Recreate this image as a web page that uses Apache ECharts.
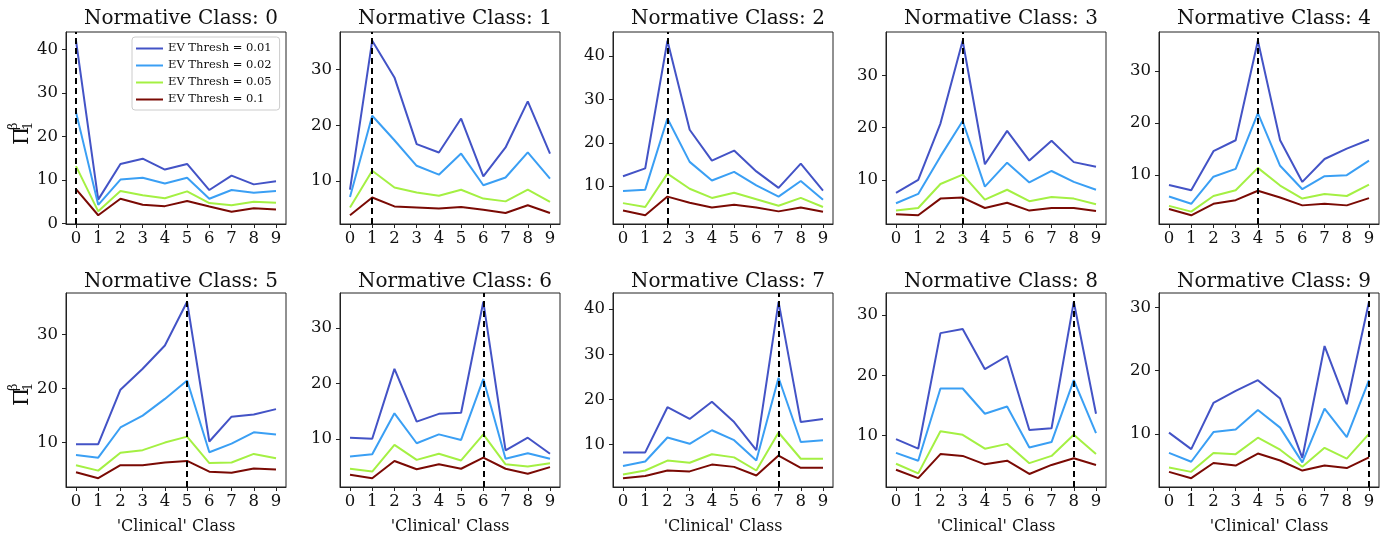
<!DOCTYPE html>
<html>
<head>
<meta charset="utf-8">
<script src="https://cdn.jsdelivr.net/npm/echarts@6/dist/echarts.min.js"></script>
<style>
html,body{margin:0;padding:0;background:#fff;}
#chart{width:1385px;height:536px;}
</style>
</head>
<body>
<div id="chart"></div>
<script>
// ---- data ----
const clinicalClasses = [0,1,2,3,4,5,6,7,8,9];
const xTickLabels = [0,1,2,3,4,5,6,7,8,9];
const yTickValues = [0,10,20,30,40];
const normativeClasses = [0,1,2,3,4,5,6,7,8,9];
const seriesNames = ['EV Thresh = 0.01','EV Thresh = 0.02','EV Thresh = 0.05','EV Thresh = 0.1'];

// one row per normative class (panel), values for clinical classes 0..9
const thresh001 = [
  [42.0, 5.5, 13.7, 14.9, 12.4, 13.7, 7.7, 11.0, 9.0, 9.7],
  [8.4, 35.2, 28.6, 16.6, 15.1, 21.2, 10.8, 16.0, 24.3, 14.9],
  [12.3, 14.1, 43.5, 23.0, 15.9, 18.2, 13.4, 9.6, 15.2, 9.0],
  [7.5, 10.0, 20.8, 36.7, 13.0, 19.4, 13.7, 17.5, 13.4, 12.5],
  [8.1, 7.1, 14.6, 16.7, 35.8, 16.7, 8.7, 13.1, 15.1, 16.8],
  [9.7, 9.7, 19.8, 23.7, 28.0, 36.1, 10.2, 14.8, 15.2, 16.2],
  [10.2, 10.0, 22.6, 13.1, 14.5, 14.7, 34.7, 7.9, 10.2, 7.3],
  [8.3, 8.3, 18.3, 15.7, 19.5, 15.0, 8.8, 41.6, 15.0, 15.7],
  [9.4, 7.8, 27.0, 27.7, 21.0, 23.2, 10.9, 11.2, 32.2, 13.6],
  [10.2, 7.6, 14.9, 16.8, 18.5, 15.6, 6.2, 23.9, 14.7, 30.9]
];
const thresh002 = [
  [25.6, 4.3, 10.1, 10.5, 9.2, 10.5, 5.7, 7.7, 7.1, 7.5],
  [7.1, 21.7, 17.3, 12.7, 11.1, 14.9, 9.2, 10.6, 15.1, 10.4],
  [8.9, 9.2, 25.6, 15.6, 11.3, 13.3, 10.2, 7.6, 11.2, 6.9],
  [5.5, 7.3, 14.5, 21.3, 8.7, 13.3, 9.5, 11.7, 9.6, 8.1],
  [5.9, 4.5, 9.7, 11.2, 21.9, 11.8, 7.3, 9.8, 10.0, 12.8],
  [7.7, 7.2, 12.8, 15.0, 18.1, 21.5, 8.2, 9.8, 11.9, 11.5],
  [6.8, 7.2, 14.6, 9.2, 10.8, 9.8, 20.8, 6.4, 7.4, 6.4],
  [5.3, 6.3, 11.6, 10.2, 13.2, 11.0, 6.5, 24.8, 10.6, 11.0],
  [7.1, 5.8, 17.8, 17.8, 13.6, 14.8, 8.0, 8.9, 19.2, 10.4],
  [7.0, 5.6, 10.3, 10.7, 13.8, 11.0, 5.5, 14.0, 9.5, 18.5]
];
const thresh005 = [
  [13.2, 2.8, 7.5, 6.5, 5.8, 7.4, 4.7, 4.2, 5.0, 4.8],
  [5.2, 11.8, 8.8, 7.9, 7.3, 8.4, 6.8, 6.3, 8.4, 6.2],
  [6.1, 5.2, 12.9, 9.4, 7.3, 8.5, 7.0, 5.5, 7.3, 5.2],
  [4.1, 4.6, 9.2, 11.0, 6.2, 8.1, 5.9, 6.7, 6.4, 5.3],
  [4.1, 3.0, 6.0, 7.1, 11.4, 8.0, 5.5, 6.4, 6.0, 8.2],
  [5.8, 4.8, 8.1, 8.6, 10.0, 11.1, 6.2, 6.3, 7.9, 7.1],
  [4.6, 4.1, 8.9, 6.2, 7.3, 6.1, 10.8, 5.4, 5.0, 5.6],
  [3.4, 4.3, 6.5, 6.0, 7.9, 7.2, 4.3, 12.7, 6.9, 6.9],
  [5.3, 3.7, 10.7, 10.1, 7.8, 8.6, 5.4, 6.6, 10.1, 6.9],
  [4.7, 4.0, 7.0, 6.8, 9.4, 7.5, 4.8, 7.8, 6.1, 10.0]
];
const thresh01 = [
  [7.9, 1.9, 5.7, 4.3, 4.0, 5.2, 3.9, 2.7, 3.5, 3.2],
  [3.8, 7.0, 5.4, 5.2, 5.0, 5.3, 4.8, 4.2, 5.6, 4.2],
  [4.4, 3.3, 7.6, 6.2, 5.1, 5.7, 5.1, 4.2, 5.1, 4.1],
  [3.4, 3.2, 6.4, 6.6, 4.6, 5.6, 4.1, 4.6, 4.6, 4.0],
  [3.5, 2.3, 4.5, 5.2, 7.0, 5.7, 4.2, 4.5, 4.2, 5.6],
  [4.5, 3.4, 5.8, 5.8, 6.3, 6.6, 4.6, 4.4, 5.2, 5.0],
  [3.5, 2.9, 6.0, 4.5, 5.4, 4.6, 6.6, 4.6, 3.7, 4.9],
  [2.6, 3.1, 4.3, 4.1, 5.6, 5.1, 3.2, 7.6, 4.9, 4.9],
  [4.3, 2.9, 6.9, 6.6, 5.2, 5.8, 3.6, 5.1, 6.2, 5.1],
  [4.0, 3.0, 5.4, 5.0, 6.9, 5.8, 4.2, 5.0, 4.6, 6.3]
];

// ---- styling / layout ----
const colors = ['#4353c6', '#3a9ff4', '#a4f043', '#7a0a04'];
const FONT = 'DejaVu Serif';
const lefts = [66, 340, 613, 886, 1159];
const W = 220;
const tops = [32, 293];
const heights = [192, 194];

const chart = echarts.init(document.getElementById('chart'), null, {renderer: 'canvas'});

const grids = [], xAxes = [], yAxes = [], titles = [], series = [];
const allSets = [thresh001, thresh002, thresh005, thresh01];

normativeClasses.forEach((nc, i) => {
  const row = Math.floor(i / 5), col = i % 5;
  grids.push({
    left: lefts[col], top: tops[row], width: W, height: heights[row],
    show: true, borderColor: '#222', borderWidth: 1, backgroundColor: 'transparent'
  });
  // matplotlib-like auto limits (5% margins)
  let lo = Infinity, hi = -Infinity;
  allSets.forEach(s => s[i].forEach(v => { lo = Math.min(lo, v); hi = Math.max(hi, v); }));
  const pad = (hi - lo) * 0.05;
  const ymin = lo - pad, ymax = hi + pad;
  const yt = yTickValues.filter(v => v >= ymin && v <= ymax);
  xAxes.push({
    type: 'value', gridIndex: i, min: -0.45, max: 9.45,
    splitLine: {show: false},
    axisLine: {show: true, onZero: false, lineStyle: {color: '#222', width: 1}},
    axisTick: {show: true, length: 4, inside: false, customValues: xTickLabels, lineStyle: {color: '#222'}},
    axisLabel: {customValues: xTickLabels, fontFamily: FONT, fontSize: 16.5, color: '#111', margin: 6},
    name: row === 1 ? "'Clinical' Class" : '',
    nameLocation: 'middle', nameGap: 32,
    nameTextStyle: {fontFamily: FONT, fontSize: 16, color: '#111'}
  });
  yAxes.push({
    type: 'value', gridIndex: i, min: ymin, max: ymax,
    splitLine: {show: false},
    axisLine: {show: true, onZero: false, lineStyle: {color: '#222', width: 1}},
    axisTick: {show: true, length: 4, inside: false, customValues: yt, lineStyle: {color: '#222'}},
    axisLabel: {customValues: yt, fontFamily: FONT, fontSize: 16.5, color: '#111', margin: 8}
  });
  titles.push({
    text: 'Normative Class: ' + nc,
    left: lefts[col] + W / 2, top: row === 0 ? 4 : 267,
    textAlign: 'center',
    textStyle: {fontFamily: FONT, fontSize: 20, fontWeight: 'normal', color: '#111'}
  });
  allSets.forEach((set, k) => {
    series.push({
      name: seriesNames[k], type: 'line', xAxisIndex: i, yAxisIndex: i,
      data: clinicalClasses.map((c, j) => [c, set[i][j]]),
      symbol: 'none', showSymbol: false,
      lineStyle: {color: colors[k], width: 2},
      itemStyle: {color: colors[k]},
      animation: false, silent: true, z: 2 + k * 0.01
    });
  });
  series.push({
    type: 'line', xAxisIndex: i, yAxisIndex: i, data: [], silent: true, animation: false, z: 5,
    markLine: {
      silent: true, animation: false, symbol: ['none', 'none'],
      label: {show: false},
      lineStyle: {color: '#000', type: [6, 4], width: 2},
      data: [{xAxis: nc}]
    }
  });
});

function yLabel(x, y) {
  return {
    type: 'group', x: x, y: y, rotation: Math.PI / 2,
    children: [
      {type: 'text', x: -12, y: 0, style: {text: 'Π', fontFamily: FONT, fontSize: 21, fill: '#111', textAlign: 'left', textVerticalAlign: 'middle'}},
      {type: 'text', x: 3, y: 6, style: {text: '1', fontFamily: FONT, fontSize: 13, fill: '#111', textAlign: 'left', textVerticalAlign: 'middle'}},
      {type: 'text', x: 3, y: -9, style: {text: 'β', fontFamily: FONT, fontSize: 13, fill: '#111', textAlign: 'left', textVerticalAlign: 'middle'}}
    ]
  };
}

chart.setOption({
  animation: false,
  backgroundColor: '#fff',
  title: titles,
  grid: grids,
  xAxis: xAxes,
  yAxis: yAxes,
  legend: {
    data: seriesNames.map(n => ({name: n, icon: 'rect'})),
    orient: 'vertical', left: 132, top: 37,
    itemWidth: 27, itemHeight: 2, itemGap: 4,
    padding: [5, 8, 4, 4],
    borderColor: '#ccc', borderWidth: 1, borderRadius: 3,
    backgroundColor: 'rgba(255,255,255,0.8)',
    textStyle: {fontFamily: FONT, fontSize: 11.5, color: '#111', lineHeight: 13},
    selectedMode: false
  },
  graphic: [yLabel(23, 133), yLabel(23, 394)],
  series: series
});
</script>
</body>
</html>
